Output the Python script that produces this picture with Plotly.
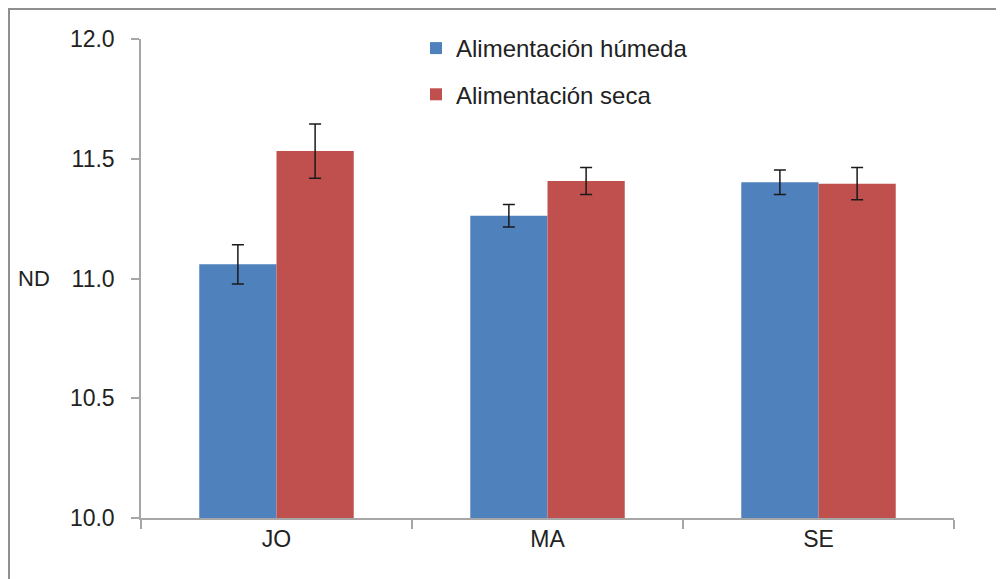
import plotly.graph_objects as go

categories = ["JO", "MA", "SE"]
humeda = [11.059, 11.262, 11.402]
humeda_err = [0.082, 0.047, 0.051]
seca = [11.532, 11.407, 11.396]
seca_err = [0.113, 0.056, 0.067]
series_names = ["Alimentación húmeda", "Alimentación seca"]
y_ticks = [10.0, 10.5, 11.0, 11.5, 12.0]

FONT = "Liberation Sans"
OFF = 8  # page body margin
W, H = 1004 - OFF, 579 - OFF
ML, MR, MT, MB = 141 - OFF, 50, 39 - OFF, 61

fig = go.Figure()
fig.add_trace(go.Bar(
    x=categories, y=humeda, name=series_names[0], legendgroup="a",
    marker=dict(color="#4F81BD", line=dict(width=0)),
    error_y=dict(type="data", array=humeda_err, visible=True,
                 color="#1a1a1a", thickness=1.5, width=6),
))
fig.add_trace(go.Bar(
    x=categories, y=seca, name=series_names[1], legendgroup="b",
    marker=dict(color="#C0504D", line=dict(width=0)),
    error_y=dict(type="data", array=seca_err, visible=True,
                 color="#1a1a1a", thickness=1.5, width=6),
))

pw = W - ML - MR
ph = H - MT - MB

def px_x(p):  # window pixel -> paper
    return (p - OFF - ML) / pw

def px_y(p):
    return (H - MB - (p - OFF)) / ph

fig.update_layout(
    width=W, height=H,
    margin=dict(l=ML, r=MR, t=MT, b=MB),
    paper_bgcolor="white", plot_bgcolor="white",
    barmode="group", bargap=0.43, bargroupgap=0,
    font=dict(family=FONT, size=23, color="#222222"),
    showlegend=True,
    legend=dict(x=px_x(416), y=px_y(26), xanchor="left", yanchor="top",
                font=dict(family=FONT, size=24, color="#222222"),
                tracegroupgap=12, bgcolor="rgba(0,0,0,0)"),
    xaxis=dict(showline=True, linecolor="#a6a6a6", linewidth=1.5,
               ticks="outside", tickson="boundaries", ticklen=9,
               tickcolor="#a6a6a6", tickwidth=1.5, showgrid=False,
               tickfont=dict(family=FONT, size=23, color="#222222")),
    yaxis=dict(range=[10, 12], tickvals=y_ticks, tickformat=".1f",
               showline=True, linecolor="#a6a6a6", linewidth=1.5,
               ticks="outside", ticklen=8, tickcolor="#a6a6a6", tickwidth=1.5,
               ticklabelstandoff=12,
               showgrid=False, zeroline=False,
               tickfont=dict(family=FONT, size=23, color="#222222")),
    annotations=[dict(text="ND", xref="paper", yref="paper",
                      x=px_x(34), y=px_y(278), xanchor="center", yanchor="middle",
                      showarrow=False, font=dict(family=FONT, size=22, color="#222222"))],
    shapes=[dict(type="rect", xref="paper", yref="paper",
                 x0=px_x(OFF + 1), x1=px_x(1030), y0=px_y(620), y1=px_y(OFF + 1),
                 line=dict(color="#8f8f8f", width=2), fillcolor="rgba(0,0,0,0)",
                 layer="below")],
)

fig.write_html("out.html")
